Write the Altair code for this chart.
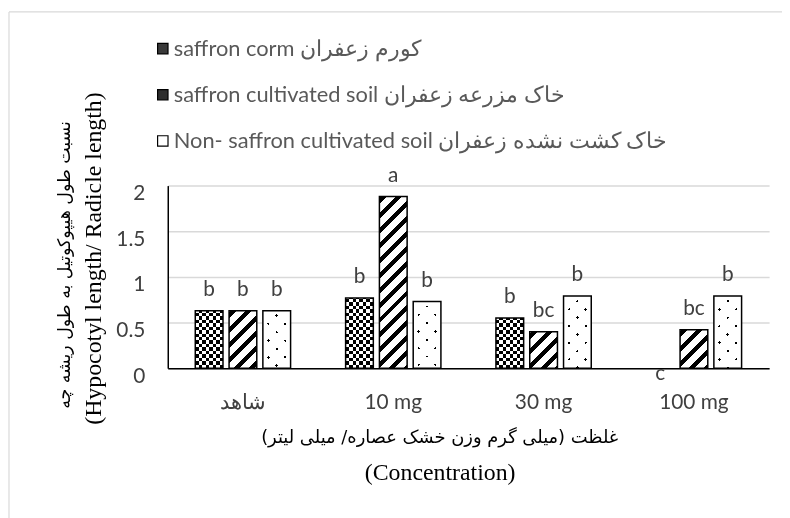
import math
import altair as alt
import pandas as pd

# ---------------- data ----------------
concentrations = ["شاهد", "10 mg", "30 mg", "100 mg"]
sources = [
    "saffron corm کورم زعفران",
    "saffron cultivated soil خاک مزرعه زعفران",
    "Non- saffron cultivated soil خاک کشت نشده زعفران",
]
corm_values = [0.63, 0.77, 0.55, 0.0]
cultivated_values = [0.63, 1.88, 0.40, 0.42]
noncultivated_values = [0.63, 0.73, 0.79, 0.79]
corm_letters = ["b", "b", "b", "c"]
cultivated_letters = ["b", "a", "bc", "bc"]
noncultivated_letters = ["b", "b", "b", "b"]
y_ticks = [0, 0.5, 1, 1.5, 2]

y_title_fa = "نسبت طول هیپوکوتیل به طول ریشه چه"
y_title_en = "(Hypocotyl length/ Radicle length)"
x_title_fa = "غلظت (میلی گرم وزن خشک عصاره/ میلی لیتر)"
x_title_en = "(Concentration)"
RLE, PDF = "\u202b", "\u202c"  # right-to-left embedding for the Persian line

series_values = [corm_values, cultivated_values, noncultivated_values]
series_letters = [corm_letters, cultivated_letters, noncultivated_letters]

rows = []
for gi, conc in enumerate(concentrations):
    for si, src in enumerate(sources):
        rows.append({
            "conc": conc, "source": src, "si": si,
            "value": series_values[si][gi], "letter": series_letters[si][gi],
            "id": f"{gi}-{si}",
        })
df = pd.DataFrame(rows)

# ---------------- layout ----------------
W, H = 606, 184
PAD = {"left": 161, "top": 177, "right": 13, "bottom": 150}
X_PI, X_PO, XO_PI = 0.366, 0.183, 0.18
step = W / (len(concentrations) - X_PI + 2 * X_PO)
band = step * (1 - X_PI)
bar_w = band / (len(sources) - XO_PI) * (1 - XO_PI)
px_unit = H / 2.0

# ---------------- fill patterns (gradients) ----------------
def stripe_stops(length, period, on_frac, phase, on, off):
    stops = [(0.0, off)]
    k = math.floor(-phase / period) - 1
    while True:
        a = phase + k * period
        b = a + on_frac * period
        if a >= length:
            break
        a2, b2 = max(a, 0.0), min(b, length)
        if b2 > a2:
            stops += [(a2 / length, off), (a2 / length, on), (b2 / length, on), (b2 / length, off)]
        k += 1
    stops.append((1.0, off))
    return [{"offset": round(o, 5), "color": c} for o, c in stops]


def grad(x1, y1, x2, y2, stops):
    return {"gradient": "linear", "x1": round(x1, 5), "y1": round(y1, 5),
            "x2": round(x2, 5), "y2": round(y2, 5), "stops": stops}

CELL = bar_w / 8.0
STRIPE_P, STRIPE_F = 15.0, 0.4
DOT_P, DOT_A = 16.8, 2.8
CLEAR = "rgba(255,255,255,0)"

base_conds, diff_conds, light_conds = [], [], []
for r in rows:
    h = r["value"] * px_unit
    if h <= 0:
        continue
    w = bar_w
    k = (w + h) / (w * w + h * h)
    test = f"datum.id === '{r['id']}'"
    if r["si"] == 0:
        base = grad(0, 0, 1, 0, stripe_stops(w, 2 * CELL, 0.5, 0, "black", "white"))
        over = grad(0, 1, 0, 0, stripe_stops(h, 2 * CELL, 0.5, 0, "white", CLEAR))
        base_conds.append({"test": test, "value": base})
        diff_conds.append({"test": test, "value": over})
    elif r["si"] == 1:
        base = grad(0, 0, k * w, k * h, stripe_stops(w + h, STRIPE_P, STRIPE_F, 2.0, "black", "white"))
        base_conds.append({"test": test, "value": base})
    else:
        s0 = w / 2 + 5
        d0 = w / 2 - 5
        base = grad(0, 0, k * w, k * h,
                    stripe_stops(w + h, DOT_P, DOT_A / DOT_P, s0 - DOT_A / 2, "black", "white"))
        over = grad(0, 1, k * w, 1 - k * h,
                    stripe_stops(w + h, DOT_P, DOT_A / DOT_P, d0 + h - DOT_A / 2, "black", "white"))
        base_conds.append({"test": test, "value": base})
        light_conds.append({"test": test, "value": over})

# ---------------- encodings ----------------
TXT = "#404040"
x_enc = alt.X(
    "conc:N", sort=concentrations, title=x_title_en,
    scale=alt.Scale(paddingInner=X_PI, paddingOuter=X_PO),
    axis=alt.Axis(
        labelAngle=0, labelFont="Lato", labelFontSize=21, labelColor=TXT, labelPadding=24,
        ticks=False, domainColor="black", domainWidth=1.5, grid=False,
        titleFont="Liberation Serif", titleFontSize=24, titleFontWeight="normal",
        titleColor="black", titleX=274, titleY=112,
        titleAlign="center", titleBaseline="alphabetic",
    ),
)
xo_enc = alt.XOffset("source:N", sort=sources, scale=alt.Scale(paddingInner=XO_PI, paddingOuter=0))
y_enc = alt.Y(
    "value:Q", title=y_title_en,
    scale=alt.Scale(domain=[0, 2], nice=False, zero=True),
    axis=alt.Axis(
        values=y_ticks, format="~g", labelFont="Lato", labelFontSize=21, labelColor=TXT,
        labelPadding=23, labelOffset=8, labelFlush=False, ticks=False,
        domainColor="black", domainWidth=1.5,
        grid=True, gridColor="#d9d9d9", gridWidth=1.5,
        titleFont="Liberation Serif", titleFontSize=24, titleFontWeight="normal",
        titleColor="black", titleX=-68, titleY=73,
        titleAlign="center", titleBaseline="alphabetic", titleAngle=270,
    ),
)

base = alt.Chart(df)

legend_layer = base.mark_bar().encode(
    x=x_enc, xOffset=xo_enc, y=y_enc,
    fill=alt.Fill(
        "source:N", sort=sources,
        scale=alt.Scale(domain=sources, range=["#3a3a3a", "#2e2e2e", "#ffffff"]),
        legend=alt.Legend(
            orient="none", legendX=-16, legendY=-149, title=None, padding=0,
            symbolType="square", symbolSize=110, symbolStrokeColor="black",
            symbolStrokeWidth=1.2, labelFont="Lato", labelFontSize=22,
            labelColor="#595959", labelOffset=0, rowPadding=24.5, labelLimit=0,
        ),
    ),
)

pattern_layer = base.mark_bar().encode(
    x=x_enc, xOffset=xo_enc, y=y_enc,
    fill={"condition": base_conds, "value": "white"},
)

checker_layer = base.transform_filter("datum.si === 0 && datum.value > 0").mark_bar(
    blend="difference").encode(
    x=x_enc, xOffset=xo_enc, y=y_enc,
    fill={"condition": diff_conds, "value": CLEAR},
)

dots_layer = base.transform_filter("datum.si === 2 && datum.value > 0").mark_bar(
    blend="lighten").encode(
    x=x_enc, xOffset=xo_enc, y=y_enc,
    fill={"condition": light_conds, "value": "white"},
)

outline_layer = base.transform_filter("datum.value > 0").mark_bar(
    filled=False, stroke="black", strokeWidth=1.5).encode(
    x=x_enc, xOffset=xo_enc, y=y_enc,
)

label_layer = base.transform_filter("datum.value > 0").mark_text(
    dy=-15, font="Lato", fontSize=21, color=TXT, baseline="alphabetic").encode(
    x=x_enc, xOffset=xo_enc, y=y_enc, text="letter:N",
)

zero_label_layer = base.transform_filter("datum.value <= 0").mark_text(
    dy=12, font="Lato", fontSize=21, color=TXT, baseline="alphabetic").encode(
    x=x_enc, xOffset=xo_enc, y=y_enc, text="letter:N",
)

one_df = pd.DataFrame({"k": [0]})
frame_left = alt.Chart(one_df).mark_rule(color="#d9d9d9", strokeWidth=1.2).encode(
    x=alt.value(-160), y=alt.value(-175), y2=alt.value(H + 160))
frame_top = alt.Chart(one_df).mark_rule(color="#d9d9d9", strokeWidth=1.2).encode(
    x=alt.value(-160), x2=alt.value(W + 40), y=alt.value(-175))

y_title_fa_layer = alt.Chart(one_df).mark_text(
    font="DejaVu Sans", fontSize=17.5, color="black", angle=270,
    align="center", baseline="alphabetic").encode(
    x=alt.value(-99), y=alt.value(80), text=alt.value(y_title_fa))

x_title_fa_layer = alt.Chart(one_df).mark_text(
    font="DejaVu Sans", fontSize=18, color="black",
    align="center", baseline="alphabetic").encode(
    x=alt.value(274), y=alt.value(259), text=alt.value(RLE + x_title_fa + PDF))

chart = alt.layer(
    frame_left, frame_top, legend_layer, pattern_layer, checker_layer, dots_layer,
    outline_layer, label_layer, zero_label_layer, y_title_fa_layer, x_title_fa_layer,
).properties(
    width=W, height=H, padding=PAD, autosize="none", background="white",
).configure_view(stroke="transparent", strokeWidth=0)

chart.save("out.html", embed_options={"renderer": "svg", "actions": False})
